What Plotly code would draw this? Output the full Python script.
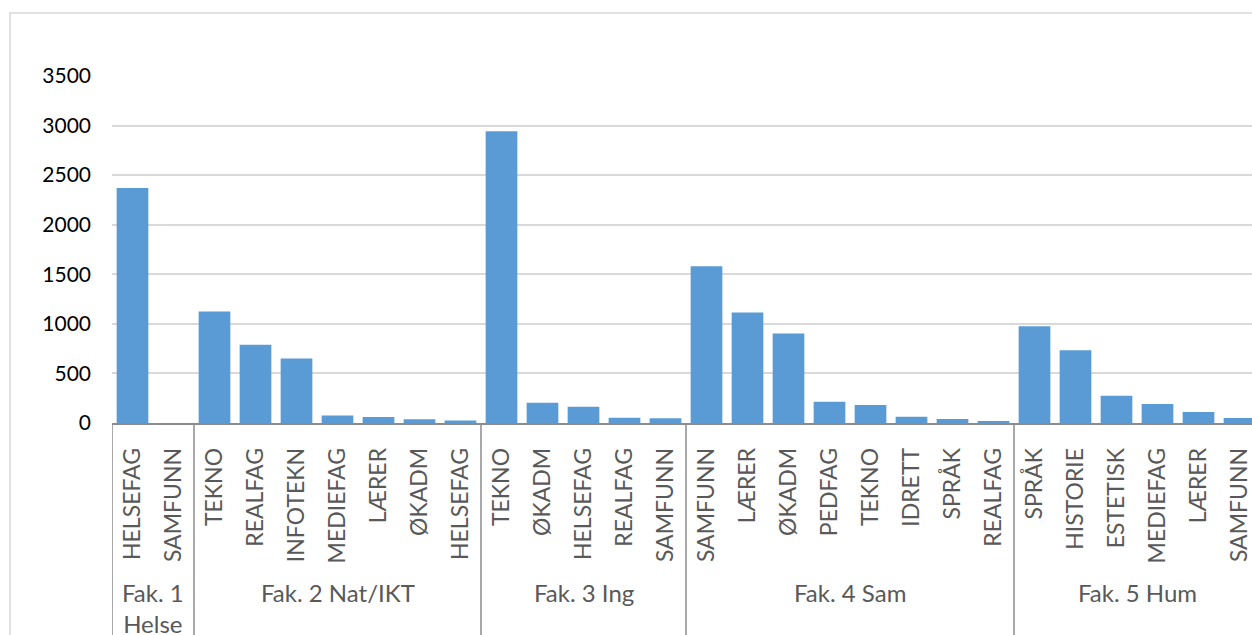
import plotly.graph_objects as go

# Studieprogram per fakultet og antall studenter
fakulteter = ["Fak. 1<br>Helse", "Fak. 2 Nat/IKT", "Fak. 3 Ing", "Fak. 4 Sam", "Fak. 5 Hum"]
fag_per_fakultet = [
    ["HELSEFAG", "SAMFUNN"],
    ["TEKNO", "REALFAG", "INFOTEKN", "MEDIEFAG", "LÆRER", "ØKADM", "HELSEFAG"],
    ["TEKNO", "ØKADM", "HELSEFAG", "REALFAG", "SAMFUNN"],
    ["SAMFUNN", "LÆRER", "ØKADM", "PEDFAG", "TEKNO", "IDRETT", "SPRÅK", "REALFAG"],
    ["SPRÅK", "HISTORIE", "ESTETISK", "MEDIEFAG", "LÆRER", "SAMFUNN"],
]
antall_per_fakultet = [
    [2370, 0],
    [1125, 790, 650, 75, 61, 37, 24],
    [2943, 204, 165, 54, 48],
    [1582, 1114, 902, 215, 182, 64, 40, 20],
    [975, 733, 276, 192, 111, 51],
]

fag = [f for gruppe in fag_per_fakultet for f in gruppe]
antall = [v for gruppe in antall_per_fakultet for v in gruppe]
posisjon = list(range(len(fag)))

W, H = 1252, 635
ML, MR, MT, MB = 112, 0, 76, 212
plot_w = W - ML - MR
plot_h = H - MT - MB

BAR = "#5B9BD5"
GRID = "#D9D9D9"
AXIS = "#8C8C8C"
LABEL = "#595959"
FONT = "Lato"

fig = go.Figure(
    go.Bar(
        x=posisjon,
        y=antall,
        marker=dict(color=BAR, line=dict(width=0)),
        hoverinfo="skip",
    )
)

shapes = []
annotations = []

# Ytre ramme rundt diagrammet
shapes.append(dict(
    type="rect", xref="paper", yref="paper",
    x0=(10 - ML) / plot_w, x1=1.2,
    y0=-1.0, y1=(plot_h + MT - 13) / plot_h,
    line=dict(color=GRID, width=1.5), fillcolor="rgba(0,0,0,0)", layer="below",
))

# Skillelinjer og navn for hvert fakultet
bunn = -(MB + 10) / plot_h
start = 0
shapes.append(dict(type="line", xref="x", yref="paper", x0=-0.5, x1=-0.5,
                   y0=0, y1=bunn, line=dict(color=AXIS, width=1.5)))
for navn, gruppe in zip(fakulteter, fag_per_fakultet):
    slutt = start + len(gruppe)
    shapes.append(dict(type="line", xref="x", yref="paper",
                       x0=slutt - 0.5, x1=slutt - 0.5, y0=0, y1=bunn,
                       line=dict(color=AXIS, width=1.5)))
    annotations.append(dict(
        x=(start + slutt - 1) / 2, xref="x",
        y=-(576 - (MT + plot_h)) / plot_h, yref="paper",
        yanchor="top", xanchor="center", showarrow=False,
        text=navn, font=dict(family=FONT, size=24, color=LABEL),
    ))
    start = slutt

fig.update_layout(
    width=W, height=H,
    margin=dict(l=ML, r=MR, t=MT, b=MB, pad=0),
    paper_bgcolor="white", plot_bgcolor="white",
    showlegend=False,
    bargap=0.227,
    shapes=shapes,
    annotations=annotations,
    xaxis=dict(
        range=[-0.5, (W - ML) / 41 - 0.5],
        tickmode="array", tickvals=posisjon, ticktext=fag,
        tickangle=-90, ticks="", ticklabelstandoff=14,
        tickfont=dict(family=FONT, size=23, color=LABEL),
        showline=True, linecolor=AXIS, linewidth=1.5,
        showgrid=False, zeroline=False, fixedrange=True,
    ),
    yaxis=dict(
        range=[0, 3500], dtick=500, tick0=0,
        showgrid=True, gridcolor=GRID, gridwidth=1.5,
        zeroline=False, showline=False, ticks="",
        ticklabelstandoff=20,
        tickfont=dict(family=FONT, size=21, color="#000000"),
        fixedrange=True,
    ),
)

fig.write_html("out.html")
